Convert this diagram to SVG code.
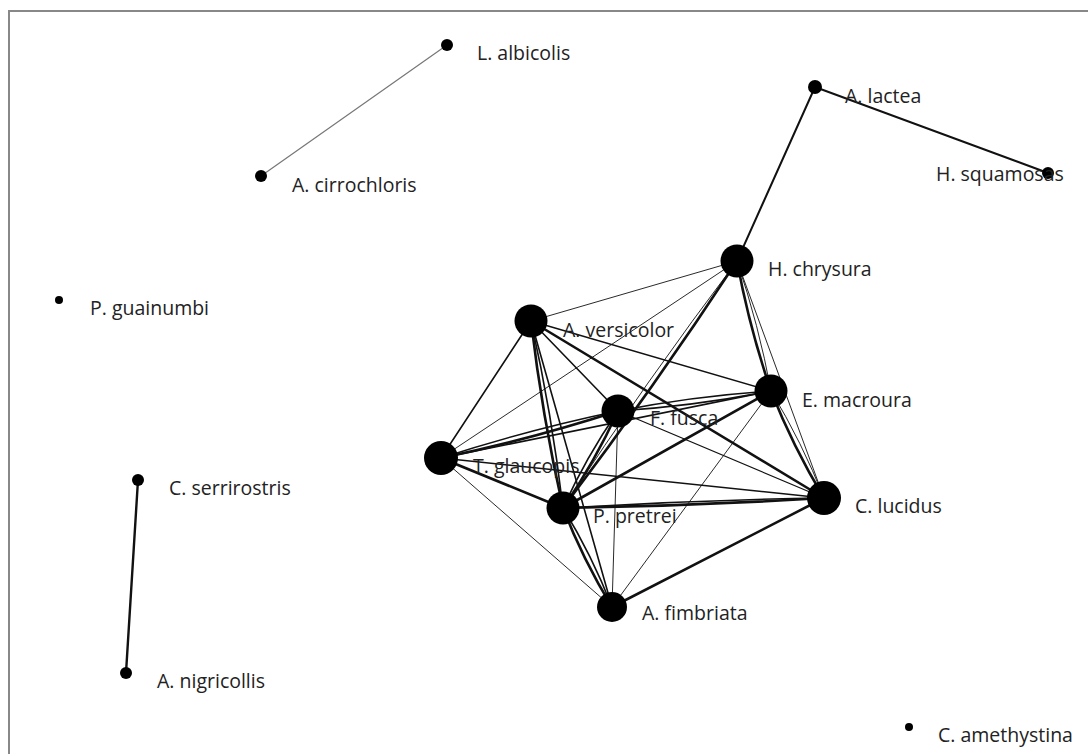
<svg xmlns="http://www.w3.org/2000/svg" width="1088" height="754" viewBox="0 0 1088 754">
<style>
.lbl{font-family:"Open Sans","Liberation Sans",sans-serif;font-size:19.5px;fill:#222}
.e{fill:none;stroke:#111;stroke-linecap:round}
.t{stroke-width:0.9}
.m{stroke-width:1.6}
.k{stroke-width:2.6}
.n{fill:#000}
</style>
<rect x="0" y="0" width="1088" height="754" fill="#fff"/>
<rect x="9" y="11" width="1100" height="760" fill="none" stroke="#888" stroke-width="2"/>
<g id="connectors">
<line class="e t" x1="447" y1="45" x2="261" y2="176" style="stroke:#777;stroke-width:1.2"/>
<line class="e m" x1="815" y1="87" x2="1048" y2="173" style="stroke-width:2"/>
<line class="e m" x1="815" y1="87" x2="737" y2="261" style="stroke-width:2"/>
<line class="e k" x1="138" y1="480" x2="126" y2="673" style="stroke-width:2.4"/>
<line class="e t" x1="531" y1="321" x2="737" y2="261"/>
<line class="e t" x1="441" y1="458" x2="737" y2="261"/>
<line class="e t" x1="737" y1="261" x2="824" y2="498"/>
<line class="e m" x1="531" y1="321" x2="441" y2="458"/>
<line class="e m" x1="531" y1="321" x2="618" y2="411"/>
<line class="e m" x1="531" y1="321" x2="771" y2="391"/>
<line class="e k" x1="531" y1="321" x2="824" y2="498"/>
<line class="e m" x1="441" y1="458" x2="771" y2="391"/>
<line class="e m" x1="441" y1="458" x2="824" y2="498"/>
<line class="e k" x1="441" y1="458" x2="563" y2="508"/>
<line class="e t" x1="441" y1="458" x2="612" y2="607"/>
<line class="e t" x1="618" y1="411" x2="824" y2="498" style="stroke-width:1.2"/>
<line class="e t" x1="618" y1="411" x2="612" y2="607"/>
<line class="e k" x1="771" y1="391" x2="563" y2="508"/>
<line class="e t" x1="771" y1="391" x2="612" y2="607"/>
<line class="e k" x1="824" y1="498" x2="612" y2="607"/>
<line class="e m" x1="531" y1="321" x2="612" y2="607"/>
<path class="e k" d="M737,261 Q749.2,327.3 771,391"/>
<path class="e t" d="M737,261 Q758.8,324.7 771,391"/>
<path class="e k" d="M771,391 Q793,446.7 824,498"/>
<path class="e t" d="M771,391 Q802,442.3 824,498"/>
<path class="e k" d="M441,458 Q530.8,439.3 618,411"/>
<path class="e m" d="M441,458 Q528.2,429.7 618,411"/>
<path class="e m" d="M618,411 Q695.1,406 771,391"/>
<path class="e m" d="M618,411 Q693.9,396 771,391"/>
<path class="e m" d="M618,411 Q586.2,457 563,508"/>
<path class="e k" d="M618,411 Q594.8,462 563,508"/>
<path class="e k" d="M563,508 Q654.1,387.4 737,261"/>
<path class="e t" d="M563,508 Q645.9,381.6 737,261"/>
<path class="e k" d="M531,321 Q542.1,415.3 563,508"/>
<path class="e m" d="M531,321 Q551.9,413.7 563,508"/>
<path class="e k" d="M563,508 Q693.6,506 824,498"/>
<path class="e m" d="M563,508 Q693.4,500 824,498"/>
<path class="e k" d="M563,508 Q583,559.7 612,607"/>
<path class="e m" d="M563,508 Q592,555.3 612,607"/>
</g>
<g id="n-l-albicolis"><circle class="n" cx="447" cy="45" r="6"/><text class="lbl" x="477" y="60">L. albicolis</text></g>
<g id="n-a-cirrochloris"><circle class="n" cx="261" cy="176" r="6"/><text class="lbl" x="292" y="192">A. cirrochloris</text></g>
<g id="n-a-lactea"><circle class="n" cx="815" cy="87" r="7"/><text class="lbl" x="845" y="103">A. lactea</text></g>
<g id="n-h-squamosas"><circle class="n" cx="1048" cy="173" r="6"/><text class="lbl" x="936" y="181">H. squamosas</text></g>
<g id="n-h-chrysura"><circle class="n" cx="737" cy="261" r="16.5"/><text class="lbl" x="768" y="276">H. chrysura</text></g>
<g id="n-p-guainumbi"><circle class="n" cx="59" cy="300" r="4"/><text class="lbl" x="90" y="315">P. guainumbi</text></g>
<g id="n-a-versicolor"><circle class="n" cx="531" cy="321" r="16.5"/><text class="lbl" x="563" y="337">A. versicolor</text></g>
<g id="n-e-macroura"><circle class="n" cx="771" cy="391" r="16.5"/><text class="lbl" x="802" y="407">E. macroura</text></g>
<g id="n-f-fusca"><circle class="n" cx="618" cy="411" r="16.5"/><text class="lbl" x="650" y="425">F. fusca</text></g>
<g id="n-t-glaucopis"><circle class="n" cx="441" cy="458" r="17"/><text class="lbl" x="473" y="473">T. glaucopis</text></g>
<g id="n-c-serrirostris"><circle class="n" cx="138" cy="480" r="6"/><text class="lbl" x="169" y="495">C. serrirostris</text></g>
<g id="n-c-lucidus"><circle class="n" cx="824" cy="498" r="17"/><text class="lbl" x="855" y="513">C. lucidus</text></g>
<g id="n-p-pretrei"><circle class="n" cx="563" cy="508" r="16.5"/><text class="lbl" x="593" y="523">P. pretrei</text></g>
<g id="n-a-fimbriata"><circle class="n" cx="612" cy="607" r="15"/><text class="lbl" x="642" y="620">A. fimbriata</text></g>
<g id="n-a-nigricollis"><circle class="n" cx="126" cy="673" r="6"/><text class="lbl" x="157" y="688">A. nigricollis</text></g>
<g id="n-c-amethystina"><circle class="n" cx="909" cy="727" r="4"/><text class="lbl" x="938" y="742">C. amethystina</text></g>
</svg>
